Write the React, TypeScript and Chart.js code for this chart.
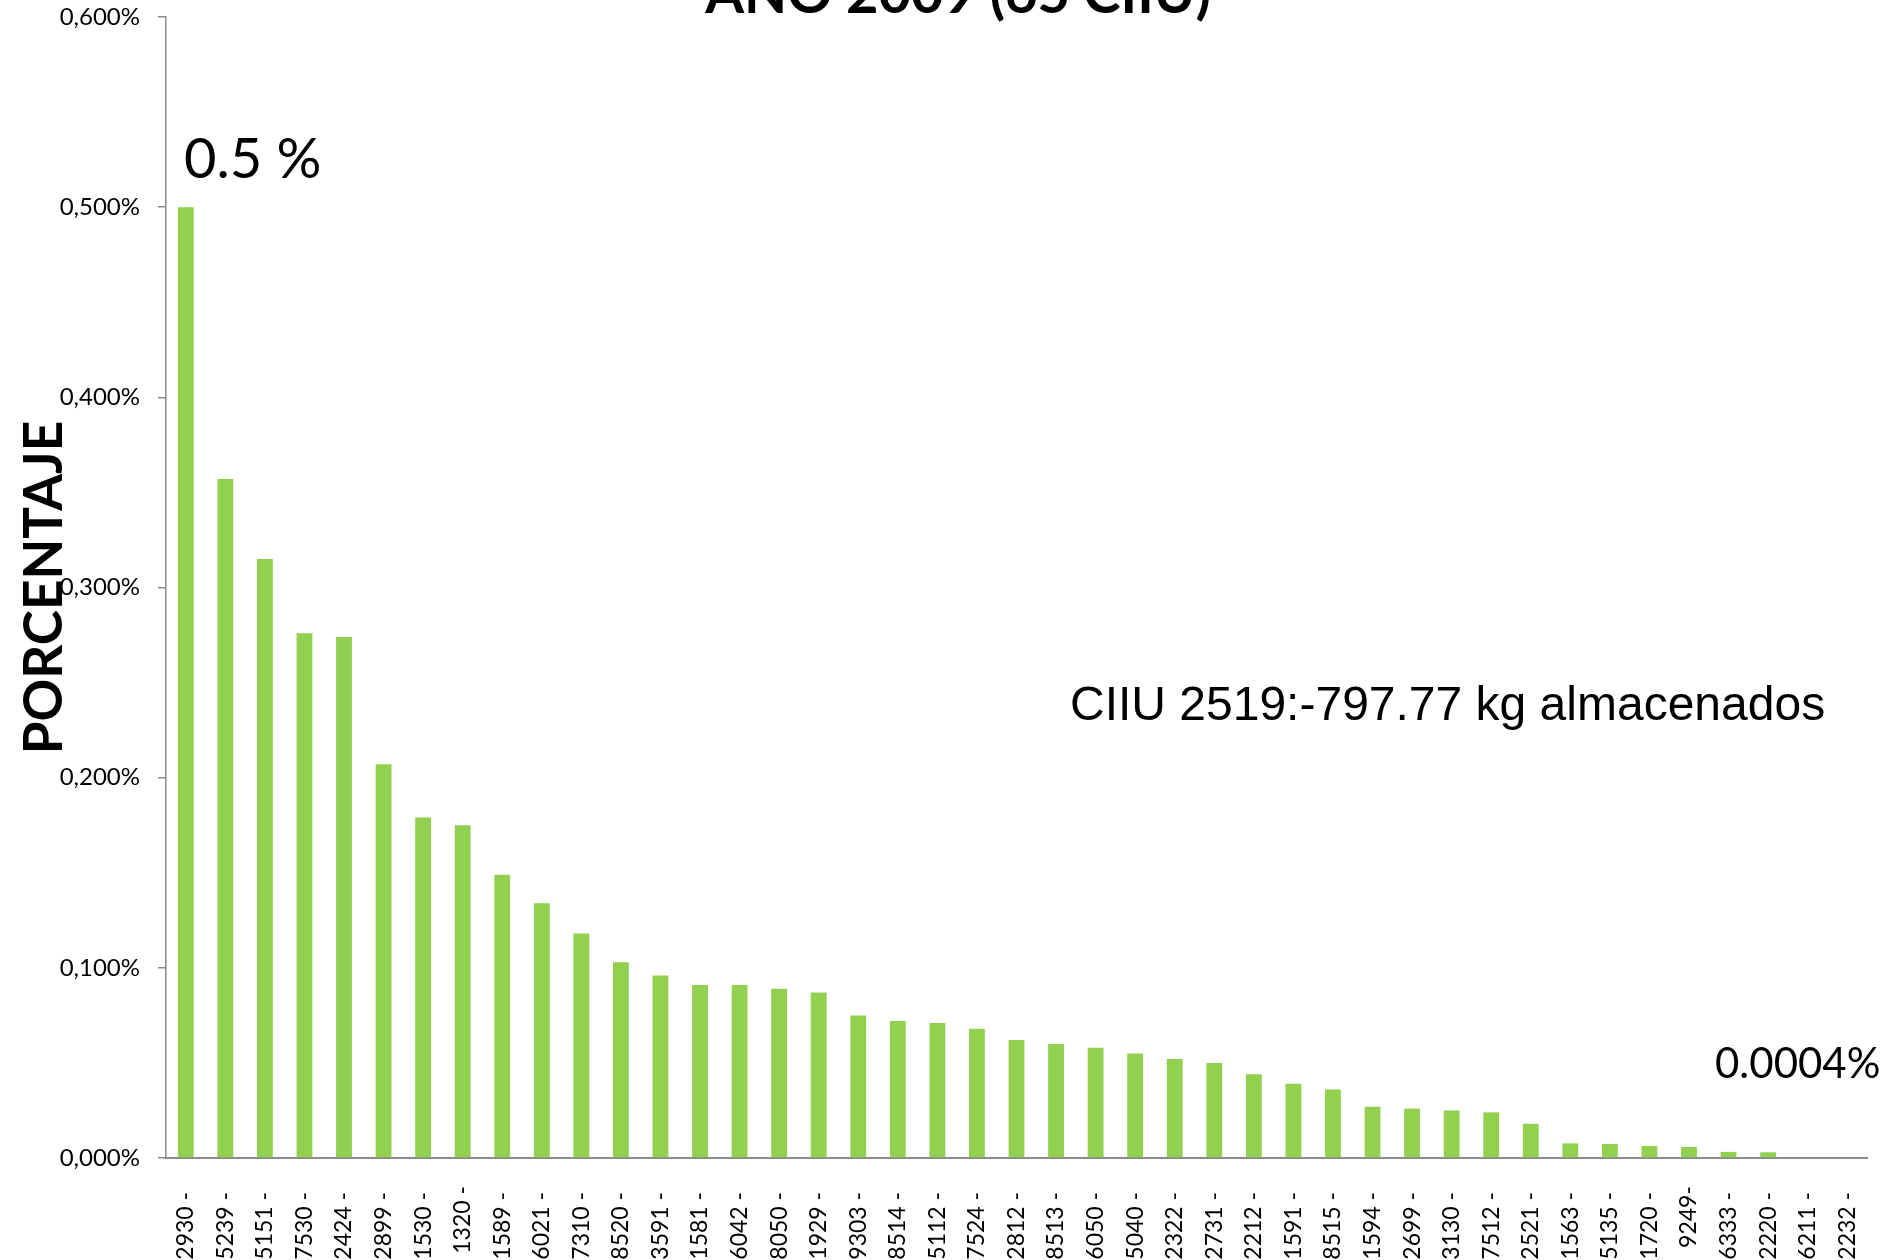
import React, { useEffect, useRef } from "react";
import { Chart, registerables } from "chart.js";

Chart.register(...registerables);

const categories: string[] = [
  "2930 - ", "5239 - ", "5151 - ", "7530 - ", "2424 - ", "2899 - ", "1530 - ", "1320 -", "1589 - ", "6021 - ",
  "7310 - ", "8520 - ", "3591 - ", "1581 - ", "6042 - ", "8050 - ", "1929 - ", "9303 - ", "8514 - ", "5112 - ",
  "7524 - ", "2812 - ", "8513 - ", "6050 - ", "5040 - ", "2322 - ", "2731 - ", "2212 - ", "1591 - ", "8515 - ",
  "1594 - ", "2699 - ", "3130 - ", "7512 - ", "2521 - ", "1563 - ", "5135 - ", "1720 - ", "9249-", "6333 - ",
  "2220 - ", "6211 - ", "2232 - ",
];

const percentages: number[] = [
  0.5, 0.357, 0.315, 0.276, 0.274, 0.207, 0.179, 0.175, 0.149, 0.134,
  0.118, 0.103, 0.096, 0.091, 0.091, 0.089, 0.087, 0.075, 0.072, 0.071,
  0.068, 0.062, 0.06, 0.058, 0.055, 0.052, 0.05, 0.044, 0.039, 0.036,
  0.027, 0.026, 0.025, 0.024, 0.018, 0.0077, 0.0074, 0.0063, 0.0058, 0.0032,
  0.003, 0.0004, 0.0004,
];

const yTicks: number[] = [0, 0.1, 0.2, 0.3, 0.4, 0.5, 0.6];

const titleText = "AÑO 2009 (65 CIIU)";
const yTitleText = "PORCENTAJE";
const topNote = "0.5 %";
const ciiuNote = "CIIU 2519:-797.77 kg almacenados";
const minNote = "0.0004%";

const textPlugin = {
  id: "textPlugin",
  afterDraw(chart: any) {
    const ctx = chart.ctx;
    const area = chart.chartArea;
    ctx.save();
    ctx.fillStyle = "#000000";
    ctx.textBaseline = "alphabetic";

    ctx.font = "bold 56px Lato";
    ctx.textAlign = "center";
    ctx.fillText(titleText, 958, 13);

    ctx.save();
    ctx.translate(45, (area.top + area.bottom) / 2);
    ctx.rotate(-Math.PI / 2);
    ctx.font = "bold 53px Lato";
    ctx.textAlign = "center";
    ctx.textBaseline = "middle";
    ctx.fillText(yTitleText, 0, 0);
    ctx.restore();

    ctx.textAlign = "left";
    ctx.font = "56px Lato";
    ctx.fillText(topNote, 184, 178);

    ctx.font = "48px 'Liberation Sans'";
    ctx.fillText(ciiuNote, 1070, 720);

    ctx.font = "42px Lato";
    ctx.fillText(minNote, 1715, 1078);
    ctx.restore();
  },
};

export default function App() {
  const canvasRef = useRef<HTMLCanvasElement | null>(null);

  useEffect(() => {
    if (!canvasRef.current) return;
    const chart = new Chart(canvasRef.current, {
      type: "bar",
      data: {
        labels: categories,
        datasets: [
          {
            data: percentages,
            backgroundColor: "#92D050",
            borderWidth: 0,
            barPercentage: 0.4,
            categoryPercentage: 1,
          },
        ],
      },
      options: {
        animation: false,
        responsive: false,
        devicePixelRatio: 1,
        layout: { padding: { top: 17, right: 28, bottom: 0, left: 0 } },
        plugins: {
          legend: { display: false },
          tooltip: { enabled: false },
          title: { display: false },
        },
        scales: {
          x: {
            grid: { display: false },
            border: { display: true, color: "#8a8a8a", width: 2 },
            ticks: {
              autoSkip: false,
              maxRotation: 90,
              minRotation: 90,
              padding: 20,
              color: "#000000",
              font: { family: "Lato", size: 23 },
            },
            afterFit: (scale: any) => {
              scale.height = 102;
              scale.paddingLeft = 0;
              scale.paddingRight = 0;
            },
          },
          y: {
            min: 0,
            max: 0.6,
            afterBuildTicks: (scale: any) => {
              scale.ticks = yTicks.map((v) => ({ value: v }));
            },
            grid: {
              display: true,
              drawOnChartArea: false,
              drawTicks: true,
              tickLength: 8,
              color: "#8a8a8a",
              lineWidth: 1.5,
            },
            border: { display: true, color: "#8a8a8a", width: 1.5 },
            ticks: {
              padding: 18,
              color: "#000000",
              font: { family: "Lato", size: 24 },
              callback: (v: any) => Number(v).toFixed(3).replace(".", ",") + "%",
            },
            afterFit: (scale: any) => {
              scale.width = 166;
              scale.paddingTop = 0;
              scale.paddingBottom = 0;
            },
          },
        },
      },
      plugins: [textPlugin],
    });
    return () => chart.destroy();
  }, []);

  return (
    <div style={{ position: "fixed", left: 0, top: 0, width: 1895, height: 1260, background: "#ffffff" }}>
      <canvas ref={canvasRef} width={1895} height={1260} style={{ display: "block", width: 1895, height: 1260 }} />
    </div>
  );
}
